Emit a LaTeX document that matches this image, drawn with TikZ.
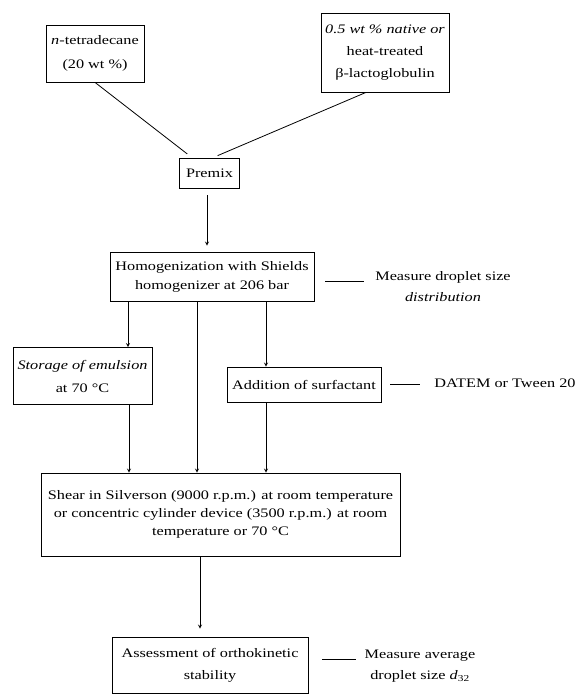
\documentclass[tikz,border=0pt]{standalone}
\usepackage{fontspec}
\setmainfont{Liberation Serif}[FakeStretch=1.25]
\usepackage{tikz}
\tikzstyle{box}=[shape=rectangle,draw,line width=0.8pt,align=center,inner sep=1pt,font=\fontsize{13}{19}\selectfont]
\tikzstyle{note}=[align=center,inner sep=1pt,font=\fontsize{13}{21}\selectfont]
\tikzstyle{to}=[->,>=stealth,line width=0.8pt]
\tikzstyle{common}=[line width=0.8pt]

\begin{document}
\begin{tikzpicture}[x=1pt,y=-1pt]
        \useasboundingbox (0,0) rectangle (578,694);
        \node[box, minimum width=98, minimum height=57, font=\fontsize{13}{24}\selectfont] (tet) at (95, 53.5)
            {\textit{n}-tetradecane\\(20 wt \%)};
        \node[box, minimum width=128, minimum height=79, font=\fontsize{13}{22}\selectfont] (lact) at (385, 52.5)
            {\textit{0.5 wt \% native or}\\heat-treated\\β-lactoglobulin};
        \node[box, minimum width=60, minimum height=30] (premix) at (209.5, 173) {Premix};
        \node[box, minimum width=204, minimum height=49] (homog) at (212, 276.5)
            {Homogenization with Shields\\homogenizer at 206 bar};
        \node[box, minimum width=139, minimum height=57, font=\fontsize{13}{23}\selectfont] (store) at (82.5, 376)
            {\textit{Storage of emulsion}\\at 70 °C};
        \node[box, minimum width=154, minimum height=35] (add) at (304, 384.5)
            {Addition of surfactant};
        \node[box, minimum width=359, minimum height=83, font=\fontsize{13}{18}\selectfont] (shear) at (220.5, 514.5)
            {Shear in Silverson (9000 r.p.m.) at room temperature\\or concentric cylinder device (3500 r.p.m.) at room\\temperature or 70 °C};
        \node[box, minimum width=196, minimum height=56, font=\fontsize{13}{22}\selectfont] (assess) at (210, 665)
            {Assessment of orthokinetic\\stability};

        % side notes
        \node[note] (meas1) at (443, 287) {Measure droplet size\\\textit{distribution}};
        \node[note] (datem) at (505, 383) {DATEM or Tween 20};
        \node[note] (meas2) at (420, 666.5) {Measure average\\droplet size \textit{d}\textsubscript{32}};

        % connectors
        \draw[common, shorten >=6pt] (tet.south) -- ([xshift=-17.5pt]premix.north);
        \draw[common, shorten >=5pt] ([xshift=-19pt]lact.south) -- ([xshift=3.5pt]premix.north);
        \draw[to, shorten <=7pt, shorten >=6pt] ([xshift=-2.5pt]premix.south) -- ([xshift=-2.5pt]premix.south |- homog.north);
        \draw[to] ([xshift=-84pt]homog.south) -- ([xshift=-84pt]homog.south |- store.north);
        \draw[to] ([xshift=54pt]homog.south) -- ([xshift=54pt]homog.south |- add.north);
        \draw[to] ([xshift=-15pt]homog.south) -- ([xshift=-15pt]homog.south |- shear.north);
        \draw[to] ([xshift=46.5pt]store.south) -- ([xshift=46.5pt]store.south |- shear.north);
        \draw[to] ([xshift=-38pt]add.south) -- ([xshift=-38pt]add.south |- shear.north);
        \draw[to, shorten >=8pt] ([xshift=-20.5pt]shear.south) -- ([xshift=-20.5pt]shear.south |- assess.north);

        \draw[common, shorten <=11pt, shorten >=10pt] ([yshift=-4.5pt]homog.east) -- ([yshift=-4.5pt]homog.east -| meas1.west);
        \draw[common, shorten <=9pt, shorten >=13pt] (add.east) -- (add.east -| datem.west);
        \draw[common, shorten <=14pt, shorten >=8pt] ([yshift=6pt]assess.east) -- ([yshift=6pt]assess.east -| meas2.west);
    \end{tikzpicture}
\end{document}
